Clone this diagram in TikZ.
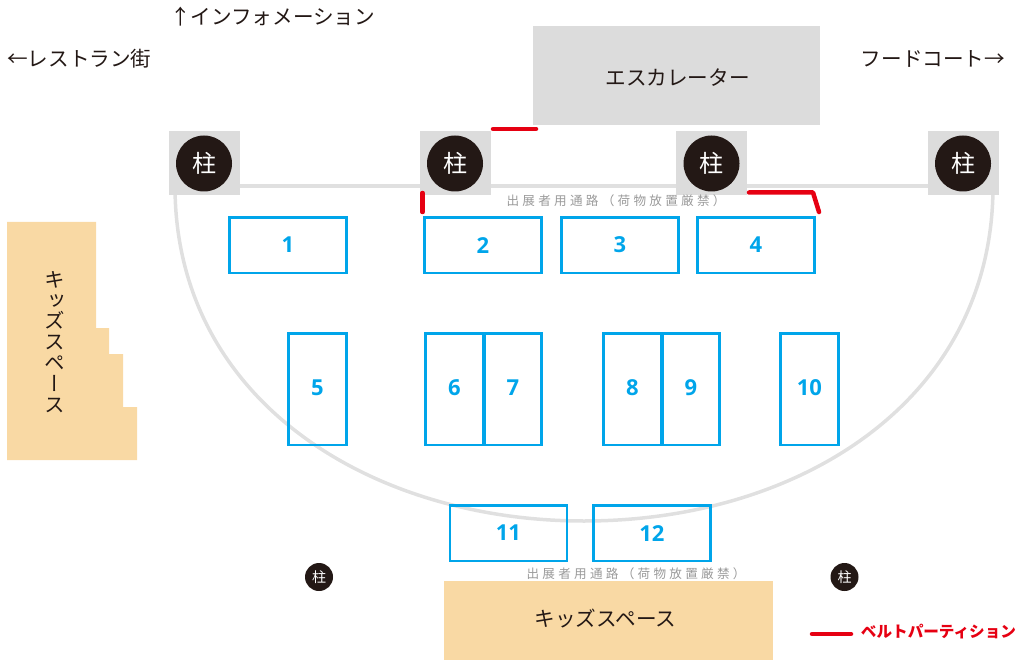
\documentclass[tikz,border=0pt]{standalone}
\usepackage{fontspec}
\setmainfont{Noto Sans CJK JP}
\newfontfamily\vfont[RawFeature=+vert]{Noto Sans CJK JP}
\newfontfamily\grayfont[LetterSpace=26]{Noto Sans CJK JP}
\newfontfamily\numfont[BoldFont={Open Sans Bold}]{Open Sans}
\definecolor{wallgray}{HTML}{DCDCDC}
\definecolor{arcgray}{HTML}{E0E0E0}
\definecolor{kids}{HTML}{F9D9A4}
\definecolor{booth}{HTML}{00A5EA}
\definecolor{belt}{HTML}{E60012}
\definecolor{ink}{HTML}{231815}
\definecolor{note}{HTML}{9A9A9A}
\newcommand{\tallnum}[1]{\raisebox{2.5pt}{#1}}
\newcommand{\lownum}[1]{\raisebox{-1.5pt}{#1}}
\tikzset{
  boothbox/.style={draw=booth,line width=2.6pt,fill=none,anchor=north west,inner sep=0pt,text=booth,font=\numfont\bfseries\fontsize{22}{22}\selectfont},
  widebooth/.style={boothbox,minimum width=117pt,minimum height=55.5pt},
  tallbooth/.style={boothbox,minimum width=58pt,minimum height=111.5pt},
  pillarbase/.style={fill=wallgray,draw=none,minimum width=71pt,minimum height=64pt,inner sep=0pt},
  pillar/.style={circle,fill=ink,text=white,draw=none,inner sep=0pt,minimum size=56pt,font=\fontsize{24}{24}\selectfont},
  smallpillar/.style={circle,fill=ink,text=white,draw=none,inner sep=0pt,minimum size=28pt,font=\fontsize{14}{14}\selectfont},
  beltline/.style={draw=belt,line width=4.5pt,line cap=round,line join=round},
  wall/.style={draw=arcgray,line width=3.5pt},
  label/.style={text=ink,inner sep=0pt,font=\fontsize{20.6}{21}\selectfont},
  graynote/.style={text=note,inner sep=0pt,font=\grayfont\fontsize{12.6}{12.6}\selectfont}
}
\begin{document}
\begin{tikzpicture}[x=1pt,y=-1pt]
\useasboundingbox (0,0) rectangle (1024,660);
% wall
\coordinate (wl) at (175,186);
\coordinate (wr) at (993,186);
\coordinate (wb) at (584,521);
\draw[wall] (wl) -- (wr);
\draw[wall] (wl) .. controls (175,400) and (370,521) .. (wb) .. controls (800,521) and (993,400) .. (wr);
% spaces
\node[fill=wallgray,minimum width=287pt,minimum height=99pt,inner sep=0pt] (esc) at (676.5,76) {};
\node[label] (escl) at (677.5,77.5) {エスカレーター};
\fill[kids] (7,222) -- (96,222) -- (96,328) -- (109,328) -- (109,354) -- (123,354) -- (123,407) -- (137,407) -- (137,460) -- (7,460) -- cycle;
\node[text=ink,inner sep=0pt,align=center,font=\vfont\fontsize{20.6}{20.9}\selectfont] (kidsl) at (55,342) {キ\\ッ\\ズ\\ス\\ペ\\ー\\ス};
\node[fill=kids,minimum width=329pt,minimum height=79pt,inner sep=0pt] (kidsb) at (608.5,620.5) {};
\node[label] (kidsbl) at (605.5,618.5) {キッズスペース};
% pillars
\foreach \n/\x in {a/204,b/455,c/711.5,d/963}{
  \node[pillarbase] (base\n) at (\x,163) {};
  \node[pillar] (p\n) at (\x,163.5) {柱};
}
\node[smallpillar] (ps1) at (319,577) {柱};
\node[smallpillar] (ps2) at (844.5,577) {柱};
% booths
\node[widebooth] (b1) at (228,216) {1};
\node[widebooth] (b2) at (423,216) {2};
\node[widebooth] (b3) at (560,216) {3};
\node[widebooth] (b4) at (696,216) {4};
\node[tallbooth] (b5) at (287,332) {\tallnum{5}};
\node[tallbooth] (b6) at (424,332) {\tallnum{6}};
\node[tallbooth,minimum width=57pt] (b7) at (483,332) {\tallnum{7}};
\node[tallbooth] (b8) at (602,332) {\tallnum{8}};
\node[tallbooth,minimum width=57pt] (b9) at (661,332) {\tallnum{9}};
\node[tallbooth] (b10) at (779,332) {\tallnum{10}};
\node[widebooth] (b11) at (448.5,504) {\lownum{11}};
\node[widebooth] (b12) at (592,504) {\lownum{12}};
% belts
\coordinate (t1) at (493,129); \coordinate (t2) at (536,129);
\draw[beltline] (t1) -- (t2);
\coordinate (l1) at (422.5,193); \coordinate (l2) at (422.5,212);
\draw[beltline] (l1) -- (l2);
\coordinate (r1) at (749,192.5); \coordinate (r2) at (813,192.5); \coordinate (r3) at (819,212);
\draw[beltline] (r1) -- (r2) -- (r3);
\coordinate (k1) at (812,634); \coordinate (k2) at (851,634);
\draw[beltline] (k1) -- (k2);
% labels
\node[graynote] (n1) at (616,201) {出展者用通路（荷物放置厳禁）};
\node[graynote] (n2) at (636,574) {出展者用通路（荷物放置厳禁）};
\node[label] (info) at (272.5,17) {↑インフォメーション};
\node[label] (rest) at (79.5,58.5) {←レストラン街};
\node[label] (food) at (933,58.5) {フードコート→};
\node[text=belt,inner sep=0pt,font=\bfseries\fontsize{15.6}{15.6}\selectfont] (leg) at (938.5,632) {ベルトパーティション};
\end{tikzpicture}
\end{document}
